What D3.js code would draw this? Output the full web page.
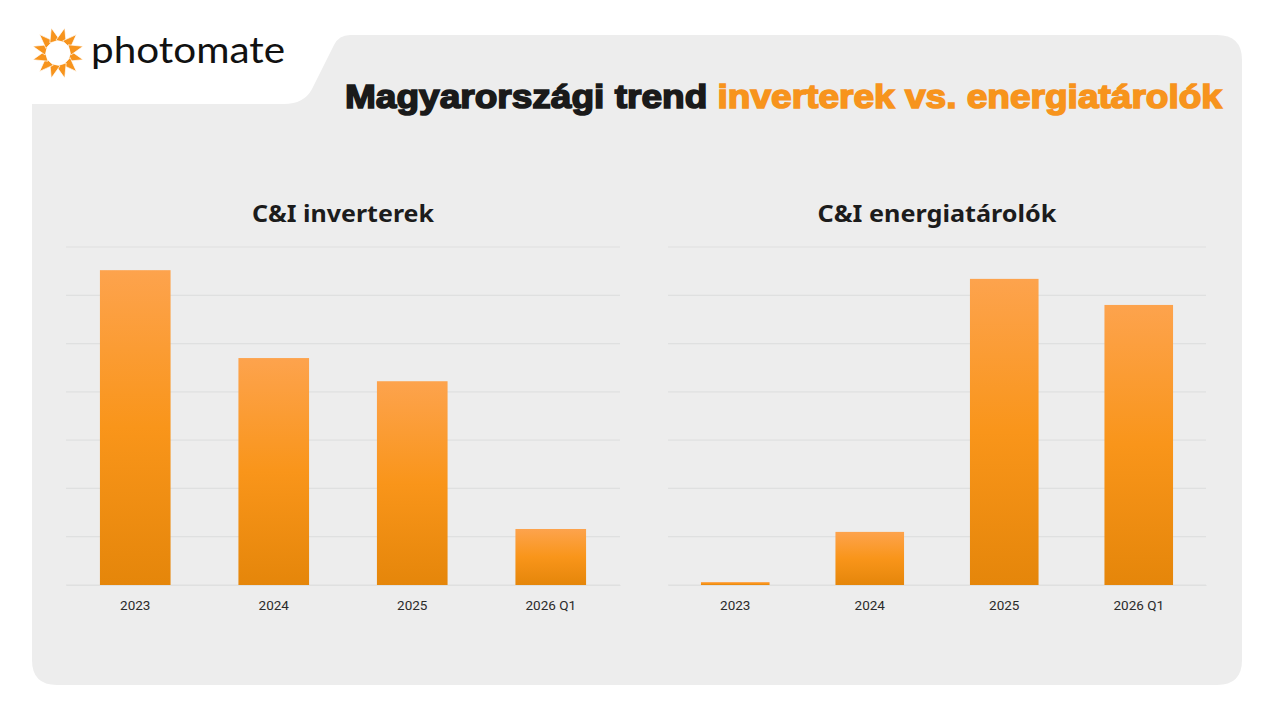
<!DOCTYPE html>
<html>
<head>
<meta charset="utf-8">
<script src="https://cdn.jsdelivr.net/npm/d3@7"></script>
<style>
  html, body { margin: 0; padding: 0; background: #fff; }
  svg { display: block; }
</style>
</head>
<body>
<div id="svg-container"></div>
<script>
// data
const categories = ["2023", "2024", "2025", "2026 Q1"];
const inverterValues = [6.52, 4.7, 4.22, 1.16];
const storageValues = [0.06, 1.1, 6.34, 5.8];
const yTicks = [0, 1, 2, 3, 4, 5, 6, 7];
const chartTitles = ["C&I inverterek", "C&I energiatárolók"];

const width = 1264, height = 718;
const svg = d3.select("#svg-container").append("svg")
  .attr("width", width).attr("height", height);

const defs = svg.append("defs");
const grad = defs.append("linearGradient")
  .attr("id", "barGrad").attr("x1", 0).attr("y1", 0).attr("x2", 0).attr("y2", 1);
grad.append("stop").attr("offset", "0%").attr("stop-color", "#fda34d");
grad.append("stop").attr("offset", "50%").attr("stop-color", "#f9951a");
grad.append("stop").attr("offset", "100%").attr("stop-color", "#e5860a");

// grey panel with cutout for logo
svg.append("path")
  .attr("d", "M32,104 L284,104 Q304,104 312,89 L334,45 Q339,35 350,35 L1217,35 Q1242,35 1242,60 L1242,660 Q1242,685 1217,685 L57,685 Q32,685 32,660 Z")
  .attr("fill", "#ededed");

// logo
const sun = svg.append("g").attr("transform", "translate(58,53)");
d3.range(12).forEach(i => {
  const a = (i * 30 + 15) * Math.PI / 180;
  const r0 = 13, r1 = 26, hw = 0.42;
  const p = [
    [r1 * Math.cos(a), r1 * Math.sin(a)],
    [r0 * Math.cos(a - hw), r0 * Math.sin(a - hw)],
    [r0 * Math.cos(a + hw), r0 * Math.sin(a + hw)]
  ];
  sun.append("path")
    .attr("d", "M" + p.map(d => d.join(",")).join("L") + "Z")
    .attr("fill", "#f7941d").attr("stroke", "#fff").attr("stroke-width", 0.7);
});
sun.append("circle").attr("r", 12).attr("fill", "#fff");

svg.append("text")
  .attr("x", 91).attr("y", 63)
  .attr("font-family", "Lato, 'Open Sans', sans-serif")
  .attr("font-weight", 400)
  .attr("font-size", 37)
  .attr("fill", "#111")
  .attr("textLength", 194)
  .attr("lengthAdjust", "spacingAndGlyphs")
  .text("photomate");

// main title
const title = svg.append("text")
  .attr("x", 1222).attr("y", 108)
  .attr("text-anchor", "end")
  .attr("font-family", "'Liberation Sans', Arial, sans-serif")
  .attr("font-weight", 900)
  .attr("font-size", 34)
  .attr("stroke-width", 1.6)
  .attr("textLength", 877)
  .attr("lengthAdjust", "spacingAndGlyphs");
title.append("tspan").attr("fill", "#1a1a1a").attr("stroke", "#1a1a1a").text("Magyarországi trend ");
title.append("tspan").attr("fill", "#f7941d").attr("stroke", "#f7941d").text("inverterek vs. energiatárolók");

// charts
const yScale = d3.scaleLinear().domain([0, 7]).range([585, 247]);

function drawChart(x0, x1, values, name, titleWidth) {
  const g = svg.append("g");
  const xScale = d3.scaleBand().domain(categories).range([x0, x1])
    .paddingInner(0.49).paddingOuter(0.245);

  g.append("text")
    .attr("x", (x0 + x1) / 2).attr("y", 222)
    .attr("text-anchor", "middle")
    .attr("font-family", "'Noto Sans', 'Open Sans', sans-serif")
    .attr("font-weight", 700)
    .attr("font-size", 23)
    .attr("fill", "#1c1c1c")
    .attr("textLength", titleWidth)
    .attr("lengthAdjust", "spacingAndGlyphs")
    .text(name);

  g.selectAll(".grid").data(yTicks).enter().append("line")
    .attr("x1", x0).attr("x2", x1)
    .attr("y1", d => yScale(d)).attr("y2", d => yScale(d))
    .attr("stroke", "#dfe0e0").attr("stroke-width", 1.2);

  g.selectAll(".bar").data(values).enter().append("rect")
    .attr("x", (d, i) => xScale(categories[i]))
    .attr("y", d => yScale(d))
    .attr("width", xScale.bandwidth())
    .attr("height", d => yScale(0) - yScale(d))
    .attr("fill", "url(#barGrad)");

  const xAxis = d3.axisBottom(xScale).tickSize(0).tickPadding(15);
  const ax = g.append("g").attr("transform", "translate(0,585)").call(xAxis);
  ax.select(".domain").attr("stroke", "#dfe0e0").attr("stroke-width", 1.2);
  ax.selectAll("text")
    .attr("font-family", "Roboto, 'Open Sans', sans-serif")
    .attr("font-size", 13.5)
    .attr("fill", "#2a2a2a");
}

drawChart(66, 620, inverterValues, chartTitles[0], 182);
drawChart(668, 1206, storageValues, chartTitles[1], 239);
</script>
</body>
</html>
